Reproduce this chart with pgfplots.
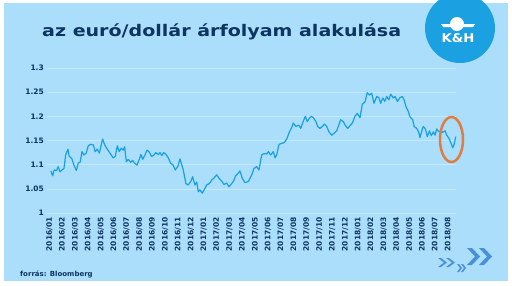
\documentclass[border=0pt]{standalone}
\usepackage{pgfplots}
\pgfplotsset{compat=1.18}
\usepackage{fontspec}
\setmainfont{DejaVu Sans}
\definecolor{bgblue}{RGB}{170,222,250}
\definecolor{gridblue}{RGB}{196,234,253}
\definecolor{navy}{RGB}{14,53,98}
\definecolor{linecol}{RGB}{24,160,226}
\definecolor{logoblue}{RGB}{27,161,226}
\definecolor{chev}{RGB}{74,144,217}
\definecolor{orangec}{RGB}{227,122,62}
\newcommand{\chev}[5]{% x y w h t
  \fill[chev] (#1pt,{(#2+#4)*1pt}) -- ({(#1+#5)*1pt},{(#2+#4)*1pt}) -- ({(#1+#3)*1pt},{(#2+#4/2)*1pt}) -- ({(#1+#5)*1pt},#2pt) -- (#1pt,#2pt) -- ({(#1+#3-#5)*1pt},{(#2+#4/2)*1pt}) -- cycle;}
\begin{document}
\begin{tikzpicture}
\path[use as bounding box] (0pt,0pt) rectangle (512pt,285pt);
\fill[bgblue] (4pt,4pt) rectangle (508pt,282pt);
\begin{axis}[
  at={(47pt,72pt)}, anchor=south west,
  scale only axis, width=409pt, height=145pt,
  xmin=-0.19, xmax=31.63, ymin=1, ymax=1.3,
  axis line style={draw=none}, tick style={draw=none},
  ymajorgrids, grid style={gridblue, line width=0.6pt},
  xtick={0,...,31},
  xticklabels={2016/01,2016/02,2016/03,2016/04,2016/05,2016/06,2016/07,2016/08,2016/09,2016/10,2016/11,2016/12,2017/01,2017/02,2017/03,2017/04,2017/05,2017/06,2017/07,2017/08,2017/09,2017/10,2017/11,2017/12,2018/01,2018/02,2018/03,2018/04,2018/05,2018/06,2018/07,2018/08},
  ytick={1,1.05,1.1,1.15,1.2,1.25,1.3},
  yticklabels={1,1.05,1.1,1.15,1.2,1.25,1.3},
  xticklabel style={rotate=90, anchor=east, inner sep=0pt, font=\bfseries\fontsize{7.5}{8}\selectfont, text=navy},
  xticklabel shift=4pt,
  yticklabel style={anchor=east, inner sep=0pt, font=\bfseries\fontsize{7.5}{8}\selectfont, text=navy},
  yticklabel shift=3pt,
  /pgf/number format/assume math mode=true,
  clip=false,
]
\addplot[linecol, line width=1.2pt, line join=round] coordinates {
(0.12,1.087)(0.25,1.077)(0.37,1.089)(0.56,1.088)(0.68,1.096)(0.82,1.085)(0.97,1.089)(1.13,1.092)
(1.26,1.120)(1.44,1.132)(1.54,1.117)(1.73,1.113)(1.91,1.099)(2.09,1.088)(2.24,1.103)(2.40,1.106)
(2.53,1.127)(2.68,1.120)(2.86,1.124)(3.02,1.139)(3.21,1.142)(3.41,1.141)(3.56,1.127)(3.72,1.132)
(3.88,1.124)(4.03,1.141)(4.14,1.153)(4.30,1.141)(4.45,1.134)(4.71,1.124)(4.96,1.114)(5.12,1.117)
(5.28,1.139)(5.43,1.127)(5.59,1.134)(5.74,1.130)(5.85,1.137)(5.98,1.106)(6.13,1.111)(6.32,1.105)
(6.47,1.109)(6.63,1.103)(6.81,1.099)(6.99,1.111)(7.12,1.121)(7.25,1.111)(7.43,1.120)(7.59,1.130)
(7.77,1.126)(7.95,1.117)(8.13,1.120)(8.26,1.125)(8.47,1.121)(8.60,1.125)(8.75,1.119)(8.89,1.125)
(9.07,1.121)(9.25,1.114)(9.43,1.103)(9.63,1.099)(9.79,1.089)(9.98,1.096)(10.16,1.112)(10.41,1.089)
(10.62,1.061)(10.80,1.058)(10.99,1.065)(11.14,1.075)(11.32,1.058)(11.46,1.064)(11.58,1.044)(11.71,1.048)
(11.89,1.041)(12.10,1.051)(12.23,1.058)(12.44,1.061)(12.62,1.068)(12.82,1.073)(13.01,1.079)(13.19,1.072)
(13.40,1.066)(13.58,1.059)(13.79,1.062)(13.97,1.054)(14.18,1.061)(14.30,1.065)(14.49,1.077)(14.67,1.082)
(14.82,1.087)(15.00,1.072)(15.21,1.063)(15.47,1.065)(15.74,1.079)(15.91,1.092)(16.12,1.096)(16.30,1.089)
(16.51,1.120)(16.69,1.123)(16.90,1.122)(17.03,1.127)(17.21,1.120)(17.42,1.127)(17.55,1.114)(17.68,1.120)
(17.86,1.142)(18.07,1.144)(18.27,1.146)(18.46,1.153)(18.66,1.167)(18.85,1.177)(18.97,1.186)(19.18,1.179)
(19.39,1.182)(19.55,1.175)(19.75,1.190)(19.91,1.200)(20.06,1.189)(20.22,1.196)(20.37,1.200)(20.53,1.197)
(20.72,1.190)(20.87,1.179)(21.05,1.175)(21.23,1.179)(21.39,1.184)(21.57,1.179)(21.75,1.168)(21.96,1.161)
(22.14,1.165)(22.35,1.170)(22.47,1.179)(22.66,1.193)(22.86,1.189)(23.00,1.182)(23.21,1.175)(23.39,1.181)
(23.56,1.186)(23.77,1.200)(23.95,1.206)(24.16,1.197)(24.34,1.225)(24.55,1.230)(24.73,1.249)(24.89,1.244)
(25.07,1.248)(25.25,1.227)(25.46,1.241)(25.62,1.239)(25.77,1.227)(25.93,1.238)(26.09,1.231)(26.24,1.241)
(26.40,1.234)(26.55,1.246)(26.75,1.238)(26.89,1.241)(27.07,1.231)(27.28,1.239)(27.46,1.241)(27.59,1.234)
(27.74,1.220)(27.92,1.210)(28.05,1.199)(28.26,1.193)(28.37,1.179)(28.58,1.175)(28.73,1.167)(28.83,1.156)
(28.99,1.172)(29.09,1.179)(29.25,1.174)(29.40,1.158)(29.56,1.170)(29.71,1.160)(29.87,1.168)(30.00,1.161)
(30.13,1.174)(30.29,1.168)(30.44,1.170)(30.60,1.167)(30.78,1.170)(30.91,1.161)(31.07,1.155)(31.22,1.146)
(31.38,1.135)(31.48,1.142)(31.61,1.158)
};
\end{axis}
% title
\node[anchor=base west, inner sep=0pt, text=navy, font=\bfseries\fontsize{16}{16}\selectfont] at (42pt,249pt) {\scalebox{1.19}[1]{az euró/dollár árfolyam alakulása}};
% logo
\fill[logoblue] (460pt,257pt) circle (35pt);
\fill[white] (457pt,261pt) circle (7pt);
\fill[white] (441pt,261pt) -- (475pt,261pt) -- (473pt,258pt) -- (443pt,258pt) -- cycle;
\node[text=white, inner sep=0pt, font=\bfseries\fontsize{12}{12}\selectfont] at (458pt,246.5pt) {\scalebox{1.1}[1]{K\&H}};
% highlight
\draw[orangec, line width=2.5pt] (451.5pt,145.5pt) ellipse (11.5pt and 22.5pt);
% source
\node[anchor=base west, inner sep=0pt, text=navy, font=\bfseries\fontsize{7}{8}\selectfont] at (20pt,9pt) {forrás: Bloomberg};
% chevrons
\chev{467}{20}{13}{17}{5}
\chev{479}{20}{13}{17}{5}
\chev{438}{18}{9}{9}{3}
\chev{446}{18}{9}{9}{3}
\chev{457}{13}{5}{8}{2}
\chev{461}{13}{5}{8}{2}
\end{tikzpicture}
\end{document}
